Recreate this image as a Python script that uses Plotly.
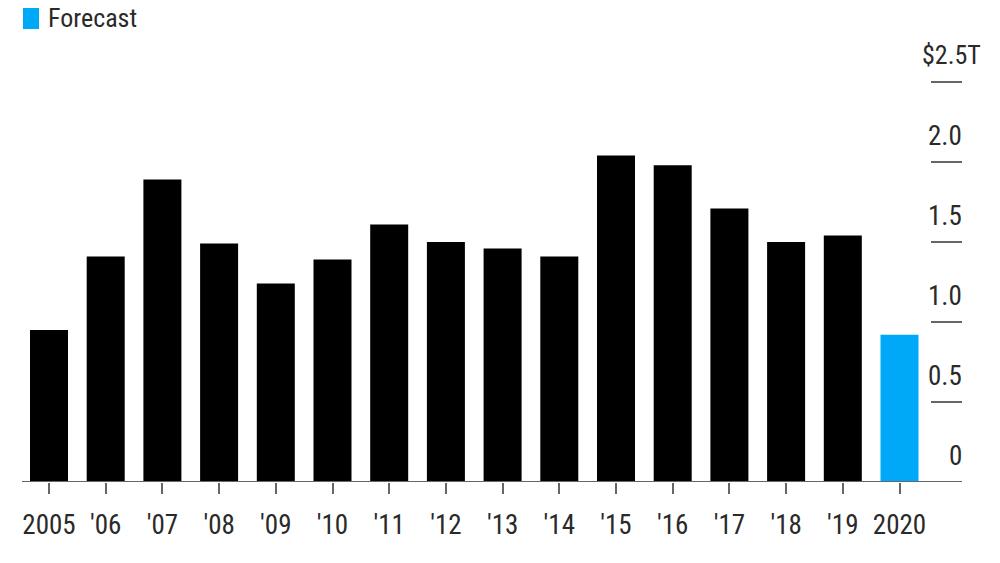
import plotly.graph_objects as go

years = ["2005", "'06", "'07", "'08", "'09", "'10", "'11", "'12", "'13", "'14",
         "'15", "'16", "'17", "'18", "'19", "2020"]
values = [0.95, 1.41, 1.89, 1.49, 1.24, 1.39, 1.61, 1.50, 1.46, 1.41,
          2.04, 1.98, 1.71, 1.50, 1.54, 0.92]
is_forecast = [False] * 15 + [True]

y_ticks = [0, 0.5, 1.0, 1.5, 2.0, 2.5]
y_tick_labels = ["0", "0.5", "1.0", "1.5", "2.0", "$2.5T"]
legend_label = "Forecast"

BLACK = "#000000"
BLUE = "#00a9f7"
GRAY = "#666666"
TEXT = "#2a2a2a"
FONT = "Roboto Condensed, DejaVu Sans Condensed, sans-serif"

OFF = 8  # page body margin
W, H = 1000 - OFF, 563 - OFF
BASE = 482 - OFF  # baseline pixel in figure coords
PLOT_H = BASE

def px(x):
    return (x - OFF) / W

def py(y):
    return (BASE - (y - OFF)) / PLOT_H

colors = [BLUE if f else BLACK for f in is_forecast]

fig = go.Figure(go.Bar(
    x=years, y=values, marker=dict(color=colors, line=dict(width=0)),
    hoverinfo="x+y",
))

shapes = []
annotations = []

shapes.append(dict(type="line", xref="paper", yref="y", x0=px(22), x1=px(962),
                   y0=0, y1=0, line=dict(color=GRAY, width=2), layer="above"))
for v, lab in zip(y_ticks, y_tick_labels):
    if v > 0:
        shapes.append(dict(type="line", xref="paper", yref="y", x0=px(931), x1=px(962),
                           y0=v, y1=v, line=dict(color=GRAY, width=2)))
    if lab.startswith("$"):
        annotations.append(dict(x=px(951), xref="paper", y=v, yref="y", text=lab,
                                xanchor="center", yanchor="middle", yshift=27,
                                showarrow=False, font=dict(family=FONT, size=26, color=TEXT)))
    else:
        annotations.append(dict(x=px(964), xref="paper", y=v, yref="y", text=lab,
                                xanchor="right", yanchor="middle", yshift=26,
                                showarrow=False, font=dict(family=FONT, size=27, color=TEXT)))

shapes.append(dict(type="rect", xref="paper", yref="paper",
                   x0=px(23), x1=px(39), y0=py(29), y1=py(8),
                   fillcolor=BLUE, line=dict(width=0)))
annotations.append(dict(x=px(46), xref="paper", y=py(18), yref="paper",
                        text=legend_label, xanchor="left", yanchor="middle", showarrow=False,
                        font=dict(family=FONT, size=26, color=TEXT)))

spacing = 56.7
fig.update_layout(
    width=W, height=H,
    margin=dict(l=0, r=0, t=0, b=H - PLOT_H),
    paper_bgcolor="white", plot_bgcolor="white",
    bargap=1 - 38 / spacing,
    showlegend=False,
    xaxis=dict(type="category", range=[-(49 - OFF) / spacing, -(49 - OFF) / spacing + W / spacing],
               showgrid=False, zeroline=False, showline=False,
               ticks="outside", ticklen=11, tickwidth=2, tickcolor=GRAY,
               ticklabelstandoff=8,
               tickfont=dict(family=FONT, size=27, color=TEXT), fixedrange=True),
    yaxis=dict(range=[0, PLOT_H / 160], showgrid=False, zeroline=False, showline=False,
               showticklabels=False, ticks="", fixedrange=True),
    shapes=shapes, annotations=annotations,
)

fig.write_html("out.html")
